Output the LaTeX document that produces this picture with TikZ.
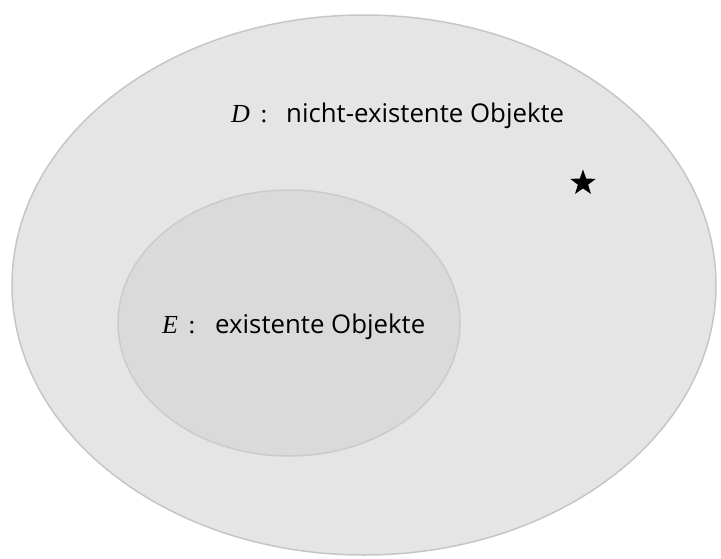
\documentclass[tikz,border=0pt]{standalone}
\usepackage{fontspec}
\setmainfont{Open Sans}
\newfontfamily\mathserif{Liberation Serif}
\usetikzlibrary{shapes.geometric}
\definecolor{outerfill}{HTML}{E5E5E5}
\definecolor{outerline}{HTML}{C6C6C6}
\definecolor{innerfill}{HTML}{DADADA}
\definecolor{innerline}{HTML}{CBCBCB}
\tikzset{
  setD/.style={ellipse, draw=outerline, fill=outerfill, line width=1.5pt, inner sep=0pt},
  setE/.style={ellipse, draw=innerline, fill=innerfill, line width=1.5pt, inner sep=0pt},
  lbl/.style={anchor=base west, inner sep=0pt, font=\fontsize{25.8}{28}\selectfont},
  var/.style={anchor=base west, inner sep=0pt, font=\fontsize{26}{28}\selectfont\mathserif},
}
\begin{document}
\begin{tikzpicture}[x=1pt,y=-1pt]
\useasboundingbox (0,0) rectangle (721,558);
\node[setD, minimum width=704pt, minimum height=540pt] (D) at (364,285) {};
\node[setE, minimum width=342pt, minimum height=266pt] (E) at (289,323) {};
\node[var] (Dv) at (231,122) {\textit{D}\hspace{0.4em}:};
\node[lbl] (Dl) at (286,122) {nicht-existente Objekte};
\node[var] (Ev) at (162,333) {\textit{E}\hspace{0.4em}:};
\node[lbl] (El) at (215,333) {existente Objekte};
\node[star, star points=5, star point ratio=2.5, fill=black, minimum size=27pt, inner sep=0pt] (s) at (583,183) {};
\end{tikzpicture}
\end{document}
